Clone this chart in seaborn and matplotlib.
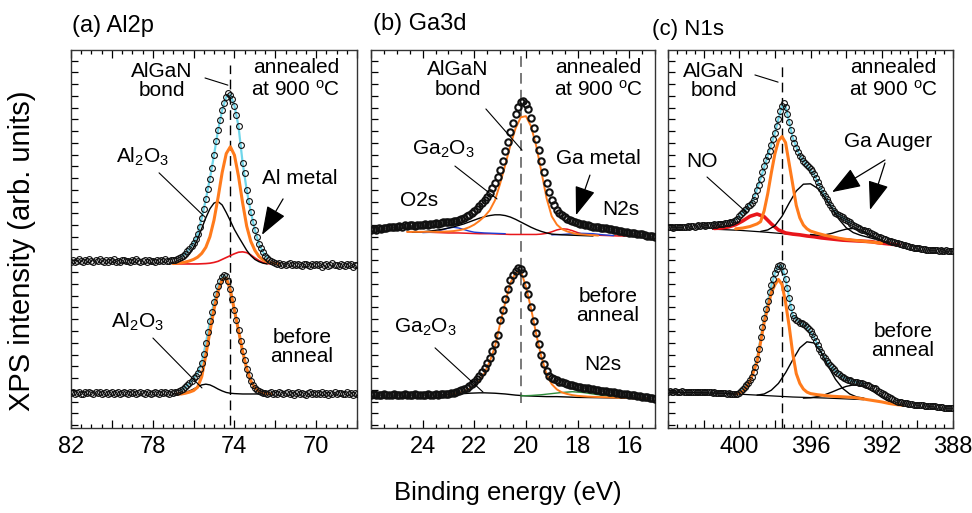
import numpy as np
import pandas as pd
import seaborn as sns
import matplotlib
matplotlib.use("Agg")
import matplotlib.pyplot as plt
from matplotlib.ticker import MultipleLocator, FixedLocator

sns.set_theme(style="white")
plt.rcParams["font.family"] = ["Liberation Sans", "DejaVu Sans"]
plt.rcParams["mathtext.fontset"] = "custom"
plt.rcParams["mathtext.rm"] = "Liberation Sans"
plt.rcParams["mathtext.it"] = "Liberation Sans:italic"
plt.rcParams["mathtext.default"] = "regular"
plt.rcParams["text.color"] = "black"
plt.rcParams["axes.labelcolor"] = "black"
plt.rcParams["xtick.color"] = "black"
plt.rcParams["ytick.color"] = "black"

# ---------------- data ----------------
# energy grids (measurement channels, 0.1 eV)
E_A = np.round(np.arange(82.0, 67.95, -0.1), 1)
E_B = np.round(np.arange(26.0, 14.95, -0.1), 1)
E_C = np.round(np.arange(404.0, 387.95, -0.1), 1)

# (a) Al2p, annealed at 900 C
A_TOP = [
    44.0, 44.5, 43.9, 44.3, 44.6, 44.1, 43.8, 44.4, 44.2, 44.7,
    44.3, 43.9, 44.5, 44.1, 44.6, 44.2, 43.9, 44.4, 44.0, 44.5,
    44.2, 44.6, 44.0, 44.3, 43.8, 44.4, 44.5, 44.1, 44.3, 43.9,
    44.4, 44.1, 44.6, 44.2, 43.9, 44.3, 44.5, 44.0, 44.4, 44.2,
    44.3, 44.0, 44.5, 44.2, 44.4, 44.1, 44.6, 44.3, 44.2, 44.5,
    44.4, 44.5, 44.7, 44.9, 45.3, 45.6, 46.1, 46.7, 47.4, 48.1,
    49.0, 50.0, 51.3, 53.2, 55.5, 58.0, 60.5, 63.3, 66.0, 68.7,
    72.2, 76.0, 78.8, 81.5, 84.1, 86.0, 87.6, 88.6, 88.2, 87.0,
    85.3, 82.9, 79.8, 75.0, 70.0, 67.5, 63.0, 60.0, 57.2, 54.5,
    52.4, 50.5, 48.7, 47.5, 46.5, 45.5, 45.0, 44.5, 44.1, 43.8,
    43.6, 43.4, 43.7, 43.2, 43.5, 43.1, 43.4, 43.6, 43.2, 43.3,
    43.0, 43.4, 43.2, 42.8, 43.3, 43.5, 43.1, 42.9, 43.4, 43.2,
    43.5, 43.0, 43.3, 42.7, 43.2, 43.4, 42.9, 43.1, 43.6, 43.0,
    43.2, 42.8, 43.4, 43.1, 42.9, 43.5, 43.0, 43.3, 42.7, 43.2,
    43.1]
# (a) Al2p, before anneal
A_BOT = [
    9.2, 9.5, 9.0, 9.3, 9.6, 9.1, 8.9, 9.4, 9.2, 9.6,
    9.3, 9.0, 9.5, 9.2, 9.4, 8.9, 9.3, 9.6, 9.1, 9.2,
    9.4, 9.1, 9.3, 9.6, 9.0, 9.2, 9.5, 9.3, 8.9, 9.4,
    9.2, 9.5, 9.1, 9.3, 9.6, 9.2, 9.0, 9.4, 9.3, 9.1,
    9.3, 9.5, 9.2, 9.0, 9.4, 9.3, 9.6, 9.2, 9.1, 9.4,
    9.2, 9.4, 9.5, 9.7, 10.0, 10.3, 10.8, 11.3, 11.8, 12.4,
    13.1, 13.8, 14.6, 15.7, 17.3, 19.5, 22.4, 25.3, 28.2, 30.8,
    33.3, 35.5, 37.5, 39.0, 40.0, 40.5, 40.1, 38.9, 36.7, 34.0,
    31.2, 28.5, 25.8, 23.0, 20.3, 17.9, 15.7, 14.0, 12.5, 11.4,
    10.6, 10.1, 9.7, 9.4, 9.2, 9.3, 9.0, 9.2, 9.4, 9.1,
    9.3, 9.0, 9.4, 9.2, 8.9, 9.3, 9.5, 9.1, 9.2, 8.8,
    9.2, 9.4, 9.0, 9.3, 9.1, 8.8, 9.3, 9.5, 9.0, 9.2,
    8.9, 9.3, 9.1, 9.4, 9.0, 9.2, 8.8, 9.3, 9.1, 9.4,
    9.0, 9.2, 9.3, 8.9, 9.1, 9.4, 9.0, 9.2, 8.8, 9.3,
    9.1]

# (b) Ga3d
B_TOP = [
    52.4, 52.6, 52.5, 52.8, 52.7, 53.0, 52.9, 53.1, 53.3, 53.2,
    53.3, 53.5, 53.3, 53.6, 53.4, 53.6, 53.7, 53.5, 53.8, 53.7,
    53.8, 54.0, 53.8, 54.1, 54.0, 54.2, 54.1, 54.3, 54.4, 54.4,
    54.5, 54.6, 54.7, 54.8, 55.0, 55.3, 55.6, 56.0, 56.4, 56.9,
    57.4, 57.9, 58.6, 59.4, 60.2, 61.1, 62.2, 63.4, 64.8, 66.4,
    68.3, 70.6, 73.2, 75.6, 78.2, 80.8, 83.2, 85.0, 86.2, 86.4,
    85.8, 84.4, 82.0, 79.3, 76.5, 73.6, 70.6, 67.6, 64.8, 62.4,
    60.4, 59.0, 57.8, 56.9, 56.3, 55.8, 55.4, 55.0, 54.7, 54.5,
    54.3, 54.1, 53.9, 53.8, 53.6, 53.5, 53.3, 53.2, 53.1, 53.0,
    52.9, 52.8, 52.7, 52.6, 52.5, 52.3, 52.1, 52.0, 51.9, 51.8,
    51.7, 51.6, 51.5, 51.4, 51.3, 51.2, 51.0, 50.9, 50.8, 50.7,
    50.6]
B_BOT = [
    8.7, 8.9, 8.6, 8.8, 8.7, 8.9, 8.6, 8.8, 8.7, 8.9,
    8.7, 8.8, 8.6, 8.9, 8.7, 8.8, 8.7, 8.9, 8.8, 8.7,
    8.8, 8.7, 8.9, 8.8, 8.8, 8.9, 8.8, 8.9, 8.9, 9.0,
    9.1, 9.2, 9.3, 9.5, 9.7, 10.0, 10.3, 10.7, 11.1, 11.6,
    12.3, 13.0, 13.8, 14.8, 15.9, 17.2, 18.6, 20.3, 22.3, 24.6,
    28.5, 31.2, 34.0, 36.8, 39.2, 40.6, 41.5, 42.2, 42.0, 41.0,
    37.8, 35.4, 32.0, 28.4, 25.2, 22.2, 19.4, 16.9, 15.0, 13.8,
    13.2, 12.9, 12.6, 12.3, 12.1, 11.9, 11.7, 11.5, 11.3, 11.1,
    10.9, 10.8, 10.7, 10.6, 10.5, 10.4, 10.2, 10.1, 10.0, 9.9,
    9.8, 9.7, 9.6, 9.5, 9.4, 9.3, 9.2, 9.1, 9.0, 8.9,
    8.8, 8.7, 8.6, 8.5, 8.4, 8.3, 8.2, 8.1, 8.0, 7.9,
    7.8]

# (c) N1s
C_TOP = [
    53.1, 53.2, 53.1, 53.0, 53.2, 53.3, 53.1, 53.2, 53.3, 53.2,
    53.3, 53.4, 53.2, 53.4, 53.5, 53.3, 53.5, 53.6, 53.4, 53.6,
    53.7, 53.5, 53.7, 53.8, 53.6, 53.8, 53.9, 53.8, 54.0, 54.0,
    54.1, 54.1, 54.2, 54.3, 54.3, 54.4, 54.6, 54.8, 55.0, 55.4,
    56.0, 56.6, 57.2, 57.6, 58.0, 58.6, 59.1, 59.6, 60.4, 61.5,
    62.9, 64.3, 66.0, 67.8, 69.4, 70.8, 72.0, 73.2, 74.8, 76.4,
    78.0, 79.8, 81.8, 83.8, 85.2, 85.9, 85.0, 83.1, 81.0, 78.9,
    76.8, 75.3, 74.0, 72.9, 72.0, 71.3, 70.6, 70.0, 69.5, 69.0,
    68.5, 67.9, 67.1, 66.1, 65.1, 64.1, 63.2, 62.3, 61.4, 60.6,
    59.8, 58.9, 58.1, 57.5, 57.0, 56.6, 56.3, 56.0, 55.7, 55.4,
    55.1, 54.8, 54.4, 54.0, 53.7, 53.4, 53.1, 52.9, 52.7, 52.5,
    52.4, 52.2, 52.0, 51.7, 51.5, 51.3, 51.0, 50.8, 50.6, 50.4,
    50.3, 50.1, 49.9, 49.8, 49.6, 49.4, 49.3, 49.1, 49.0, 48.9,
    48.8, 48.6, 48.5, 48.4, 48.2, 48.1, 48.0, 47.8, 47.7, 47.6,
    47.5, 47.5, 47.4, 47.3, 47.3, 47.2, 47.2, 47.1, 47.1, 47.0,
    47.0, 47.0, 46.9, 47.0, 46.9, 46.9, 47.0, 46.9, 46.8, 46.9,
    46.9]
C_BOT = [
    9.6, 9.7, 9.6, 9.5, 9.7, 9.6, 9.6, 9.5, 9.7, 9.6,
    9.6, 9.5, 9.6, 9.6, 9.5, 9.6, 9.5, 9.6, 9.5, 9.5,
    9.5, 9.4, 9.5, 9.4, 9.4, 9.3, 9.4, 9.3, 9.3, 9.2,
    9.2, 9.3, 9.2, 9.1, 9.2, 9.1, 9.1, 9.0, 9.1, 9.1,
    9.3, 9.8, 10.3, 10.8, 11.4, 12.0, 12.7, 13.6, 14.7, 16.2,
    18.3, 21.0, 24.0, 26.6, 29.1, 31.4, 33.6, 35.9, 37.7, 39.4,
    40.9, 42.0, 42.9, 43.1, 42.8, 41.6, 39.3, 37.0, 34.5, 32.0,
    29.8, 29.0, 28.6, 28.2, 27.9, 27.7, 27.5, 27.2, 26.8, 26.3,
    25.7, 25.0, 24.0, 22.9, 21.9, 20.9, 20.0, 19.1, 18.4, 17.7,
    17.1, 16.6, 16.1, 15.6, 15.1, 14.6, 14.2, 13.8, 13.5, 13.2,
    12.9, 12.7, 12.6, 12.4, 12.3, 12.2, 12.1, 12.0, 11.9, 11.8,
    11.7, 11.5, 11.3, 11.1, 10.9, 10.7, 10.5, 10.2, 9.9, 9.6,
    9.3, 9.0, 8.7, 8.4, 8.1, 7.9, 7.6, 7.4, 7.2, 7.0,
    6.9, 6.8, 6.7, 6.6, 6.5, 6.4, 6.4, 6.3, 6.2, 6.2,
    6.1, 6.1, 6.0, 6.0, 5.9, 5.9, 5.8, 5.8, 5.8, 5.7,
    5.7, 5.6, 5.6, 5.5, 5.5, 5.4, 5.4, 5.3, 5.3, 5.3,
    5.2]

# fitted components (energy, intensity)
A_TOP_ORANGE = [(77.0, 43.5), (76.8, 43.6), (76.6, 43.7), (76.4, 43.9), (76.2, 44.2), (76.0, 44.6),
                (75.8, 45.2), (75.6, 46.2), (75.4, 47.8), (75.2, 50.6), (75.0, 55.0), (74.8, 61.0),
                (74.6, 67.6), (74.4, 72.6), (74.2, 74.4), (74.0, 72.2), (73.8, 66.6), (73.6, 59.6),
                (73.4, 53.4), (73.2, 49.4), (73.0, 47.0), (72.8, 45.4), (72.6, 44.5), (72.4, 44.0),
                (72.2, 43.7), (72.0, 43.5), (71.8, 43.4)]
A_TOP_OXIDE = [(77.0, 43.6), (76.8, 43.8), (76.6, 44.2), (76.4, 44.9), (76.2, 46.0), (76.0, 47.7),
               (75.8, 50.0), (75.6, 52.8), (75.4, 55.6), (75.2, 58.0), (75.0, 59.5), (74.8, 59.9),
               (74.6, 59.0), (74.4, 57.0), (74.2, 54.8), (74.0, 52.5), (73.8, 50.6), (73.6, 48.8),
               (73.4, 47.0), (73.2, 45.6), (73.0, 44.6), (72.8, 44.0), (72.6, 43.6), (72.4, 43.4)]
A_TOP_METAL = [(77.0, 43.4), (76.6, 43.4), (76.2, 43.4), (75.8, 43.4), (75.4, 43.5), (75.2, 43.6),
               (75.0, 43.8), (74.8, 44.1), (74.6, 44.6), (74.4, 45.1), (74.2, 45.6), (74.0, 46.1),
               (73.8, 46.5), (73.6, 46.6), (73.4, 46.4), (73.2, 45.8), (73.0, 45.0), (72.8, 44.3),
               (72.6, 43.8), (72.4, 43.5), (72.2, 43.4)]
A_TOP_FIT = [(76.6, 45.3), (76.4, 46.1), (76.2, 47.4), (76.0, 49.0), (75.8, 51.3), (75.6, 55.5),
             (75.4, 60.5), (75.2, 66.0), (75.0, 72.2), (74.8, 78.8), (74.6, 84.1), (74.4, 87.6),
             (74.2, 88.2), (74.0, 85.3), (73.8, 79.8), (73.6, 70.2), (73.4, 63.0), (73.2, 57.2),
             (73.0, 52.4), (72.8, 48.7), (72.6, 46.5), (72.4, 45.0)]
A_BOT_ORANGE = [(76.8, 9.0), (76.6, 9.0), (76.4, 9.2), (76.2, 9.5), (76.0, 9.9), (75.8, 10.8),
                (75.6, 13.6), (75.4, 19.3), (75.2, 25.5), (75.0, 31.4), (74.8, 36.2), (74.6, 39.2),
                (74.4, 39.7), (74.2, 36.5), (74.0, 31.1), (73.8, 25.8), (73.6, 20.3), (73.4, 15.7),
                (73.2, 12.5), (73.0, 10.6), (72.8, 9.7), (72.6, 9.3), (72.4, 9.1), (72.2, 9.0)]
A_BOT_OXIDE = [(77.0, 9.1), (76.6, 9.2), (76.4, 9.4), (76.2, 9.8), (76.0, 10.3), (75.8, 10.9),
               (75.6, 11.4), (75.4, 11.6), (75.2, 11.4), (75.0, 10.9), (74.8, 10.3), (74.6, 9.8),
               (74.4, 9.4), (74.2, 9.2), (74.0, 9.1), (73.6, 9.0), (73.2, 9.0), (72.8, 9.0), (72.4, 9.0)]
A_BOT_FIT = [(76.6, 10.0), (76.4, 10.8), (76.2, 11.8), (76.0, 13.1), (75.8, 14.6), (75.6, 17.3),
             (75.4, 22.4), (75.2, 28.2), (75.0, 33.3), (74.8, 37.5), (74.6, 40.0), (74.4, 40.1),
             (74.2, 36.7), (74.0, 31.2), (73.8, 25.8), (73.6, 20.3), (73.4, 15.7), (73.2, 12.5),
             (73.0, 10.6), (72.8, 9.7), (72.6, 9.2)]

B_TOP_ORANGE = [(24.6, 51.9), (24.2, 51.9), (23.8, 51.9), (23.4, 51.9), (23.0, 52.0), (22.8, 52.1),
                (22.6, 52.3), (22.4, 52.6), (22.2, 53.1), (22.0, 53.8), (21.8, 54.8), (21.6, 56.0),
                (21.4, 57.6), (21.2, 60.2), (21.0, 64.6), (20.8, 69.6), (20.6, 74.8), (20.4, 79.3),
                (20.2, 82.2), (20.0, 82.5), (19.8, 79.8), (19.6, 74.6), (19.4, 67.8), (19.2, 60.8),
                (19.0, 56.0), (18.8, 53.8), (18.6, 52.6), (18.4, 52.0), (18.2, 51.6), (18.0, 51.3),
                (17.6, 51.1), (17.2, 50.9)]
B_TOP_OXIDE = [(24.4, 51.8), (24.0, 51.9), (23.6, 52.2), (23.2, 52.6), (22.8, 53.2), (22.6, 53.6),
               (22.4, 54.0), (22.2, 54.5), (22.0, 55.0), (21.8, 55.5), (21.6, 55.9), (21.4, 56.2),
               (21.2, 56.4), (21.0, 56.4), (20.8, 56.2), (20.6, 55.8), (20.4, 55.2), (20.2, 54.5),
               (20.0, 53.8), (19.8, 53.1), (19.6, 52.5), (19.4, 52.0), (19.2, 51.6), (19.0, 51.3),
               (18.6, 51.1), (18.2, 51.0), (17.8, 50.9), (17.4, 50.8)]
B_TOP_METAL = [(24.6, 51.9), (24.2, 51.8), (23.8, 51.8), (23.4, 51.7), (23.0, 51.6), (22.6, 51.6),
               (22.2, 51.5), (21.8, 51.4), (21.4, 51.4), (21.0, 51.3), (20.6, 51.2), (20.2, 51.2),
               (19.8, 51.2), (19.6, 51.2), (19.4, 51.3), (19.2, 51.5), (19.0, 51.9), (18.8, 52.4),
               (18.6, 52.7), (18.4, 52.6), (18.2, 52.2), (18.0, 51.7), (17.8, 51.3), (17.6, 51.1),
               (17.2, 51.0), (16.8, 50.9), (16.4, 50.8), (16.0, 50.8), (15.6, 50.7)]
B_TOP_O2S = [(24.0, 51.7), (23.6, 51.8), (23.4, 52.1), (23.2, 52.5), (23.0, 52.9), (22.8, 53.1),
             (22.6, 52.9), (22.4, 52.5), (22.2, 52.1), (22.0, 51.8), (21.6, 51.6), (21.2, 51.5),
             (20.8, 51.4)]
B_TOP_N2S = [(19.0, 51.1), (18.6, 51.2), (18.2, 51.4), (17.8, 51.5), (17.4, 51.4), (17.0, 51.1),
             (16.6, 50.9)]
B_BOT_ORANGE = [(23.0, 8.8), (22.8, 9.0), (22.6, 9.3), (22.4, 9.7), (22.2, 10.3), (22.0, 11.2),
                (21.8, 12.6), (21.6, 14.6), (21.4, 17.6), (21.2, 21.5), (21.0, 27.5), (20.8, 33.2),
                (20.6, 38.4), (20.4, 41.0), (20.2, 41.6), (20.0, 37.4), (19.8, 31.6), (19.6, 24.8),
                (19.4, 18.8), (19.2, 14.2), (19.0, 11.6), (18.8, 10.2), (18.6, 9.4), (18.4, 9.0),
                (18.2, 8.7), (18.0, 8.5), (17.6, 8.3), (17.2, 8.2), (16.8, 8.1), (16.4, 8.0),
                (16.0, 7.9), (15.6, 7.8), (15.2, 7.8)]
B_BOT_OXIDE = [(23.4, 8.7), (23.0, 8.8), (22.6, 9.0), (22.2, 9.2), (21.8, 9.3), (21.6, 9.3),
               (21.2, 9.2), (20.8, 9.0), (20.4, 8.7), (20.0, 8.5), (19.6, 8.4), (19.2, 8.3),
               (18.8, 8.3), (18.4, 8.2), (18.0, 8.1), (17.0, 8.0), (16.0, 7.9), (15.2, 7.8)]
B_BOT_N2S = [(20.2, 8.5), (19.8, 8.6), (19.4, 8.8), (19.0, 9.1), (18.6, 9.4), (18.2, 9.6),
             (17.8, 9.4), (17.4, 9.0), (17.0, 8.6), (16.6, 8.3), (16.2, 8.1)]

C_TOP_NO = [(401.4, 52.8), (401.0, 52.9), (400.6, 53.2), (400.2, 53.8), (399.8, 54.8), (399.4, 56.0),
            (399.0, 56.6), (398.6, 55.9), (398.2, 54.0), (397.8, 52.4), (397.4, 51.6), (397.0, 51.3),
            (396.6, 51.1), (396.2, 50.8), (395.8, 50.6), (395.4, 50.3), (395.0, 50.1), (394.6, 49.9),
            (394.2, 49.7), (393.8, 49.6), (393.4, 49.5), (393.0, 49.4), (392.6, 49.3), (392.2, 49.0),
            (391.8, 48.8), (391.4, 48.6), (391.0, 48.4)]
C_TOP_ORANGE = [(400.2, 52.7), (399.8, 52.9), (399.4, 53.3), (399.0, 54.0), (398.8, 54.6), (398.6, 57.5),
                (398.4, 62.0), (398.2, 67.5), (398.0, 72.5), (397.8, 76.0), (397.6, 77.1), (397.4, 75.5),
                (397.2, 70.0), (397.0, 64.5), (396.8, 58.9), (396.6, 55.6), (396.4, 53.7), (396.2, 52.7),
                (396.0, 52.1), (395.6, 51.5), (395.2, 51.0), (394.8, 50.6), (394.4, 50.2), (394.0, 49.9),
                (393.6, 49.7), (393.2, 49.5), (392.8, 49.3), (392.4, 49.1), (392.0, 48.9)]
C_TOP_AUGER1 = [(398.8, 52.0), (398.4, 52.4), (398.0, 53.5), (397.6, 56.0), (397.2, 59.5), (396.8, 62.7),
                (396.4, 64.5), (396.0, 64.6), (395.6, 63.4), (395.2, 61.0), (394.8, 58.1), (394.4, 55.2),
                (394.0, 53.0), (393.6, 51.7), (393.2, 51.0), (392.8, 50.5), (392.4, 50.0)]
C_TOP_AUGER2 = [(396.0, 51.2), (395.6, 51.0), (395.2, 51.1), (394.8, 51.5), (394.4, 52.1), (394.0, 52.6),
                (393.6, 52.8), (393.2, 52.4), (392.8, 51.5), (392.4, 50.5), (392.0, 49.6), (391.6, 49.0)]
C_TOP_BG = [(401.5, 52.6), (400.0, 52.3), (398.5, 51.8), (397.0, 51.2), (395.5, 50.6), (394.0, 50.0),
            (392.5, 49.3), (391.0, 48.4)]
C_TOP_FIT = [(400.4, 54.6), (400.0, 56.0), (399.6, 58.0), (399.2, 60.4), (398.8, 66.0), (398.4, 72.0),
             (398.0, 78.0), (397.8, 81.8), (397.6, 85.2), (397.4, 85.0), (397.2, 81.0), (397.0, 76.8),
             (396.6, 72.0), (396.2, 69.5), (395.8, 67.1), (395.4, 63.2), (395.0, 59.8), (394.6, 57.0),
             (394.2, 55.7), (393.8, 54.4)]
C_BOT_ORANGE = [(400.2, 9.0), (399.8, 9.6), (399.4, 12.3), (399.0, 17.5), (398.6, 28.0), (398.2, 35.8),
                (398.0, 37.9), (397.8, 39.3), (397.6, 38.0), (397.4, 33.2), (397.2, 27.0), (397.0, 19.8),
                (396.8, 14.4), (396.6, 11.8), (396.4, 10.3), (396.2, 9.5), (396.0, 9.1), (395.6, 8.8),
                (395.2, 8.6), (394.8, 8.4), (394.4, 8.3), (394.0, 8.2), (393.6, 8.1), (393.2, 7.8),
                (392.8, 7.5), (392.4, 7.2), (392.0, 6.9), (391.6, 6.5), (391.2, 6.2), (390.8, 6.0)]
C_BOT_AUGER1 = [(399.0, 8.7), (398.6, 9.0), (398.2, 10.0), (397.8, 11.8), (397.4, 14.6), (397.0, 18.0),
                (396.6, 21.2), (396.2, 22.8), (395.8, 22.5), (395.4, 20.0), (395.0, 16.3), (394.6, 12.9),
                (394.2, 10.5), (393.8, 9.0), (393.4, 8.2), (393.0, 7.9)]
C_BOT_AUGER2 = [(396.4, 7.9), (396.0, 8.0), (395.6, 8.3), (395.2, 8.8), (394.8, 9.5), (394.4, 10.3),
                (394.0, 11.0), (393.6, 11.4), (393.2, 11.3), (392.8, 10.6), (392.4, 9.4), (392.0, 8.1),
                (391.6, 7.0), (391.2, 6.3)]
C_BOT_BG = [(404.0, 9.5), (401.0, 9.2), (399.0, 8.7), (397.0, 8.2), (395.0, 7.9), (393.0, 7.5)]
C_BOT_FIT = [(400.2, 9.2), (399.8, 10.3), (399.4, 12.7), (399.0, 18.3), (398.6, 29.1), (398.2, 37.7),
             (398.0, 40.9), (397.8, 42.9), (397.6, 42.8), (397.4, 39.3), (397.2, 34.5), (397.0, 29.8),
             (396.6, 27.9), (396.2, 26.8), (395.8, 24.0), (395.4, 20.0), (395.0, 17.1), (394.6, 15.1),
             (394.2, 13.5), (393.8, 12.6), (393.4, 12.1), (393.0, 11.7)]

REF_A, REF_B, REF_C = 74.22, 20.2, 397.6
TICKLABELS_A = [82, 78, 74, 70]
TICKLABELS_B = [24, 22, 20, 18, 16]
TICKLABELS_C = [400, 396, 392, 388]

# ---------------- style ----------------
ORANGE = "#ff7b1c"
RED = "#e8161b"
CYAN = "#6fd6ea"
BLUE = "#1f3fd6"
GREEN = "#2e8b3a"
FS = 15

fig = plt.figure(figsize=(9.72, 5.13), dpi=100)
ax_a = fig.add_axes([71 / 972, 1 - 428 / 513, 286 / 972, 378 / 513])
ax_b = fig.add_axes([371 / 972, 1 - 428 / 513, 284 / 972, 378 / 513])
ax_c = fig.add_axes([668 / 972, 1 - 428 / 513, 285 / 972, 378 / 513])


def curve(ax, pairs, color, lw, z=2):
    xs, ys = zip(*pairs)
    df = pd.DataFrame({"E": xs, "I": ys})
    sns.lineplot(data=df, x="E", y="I", ax=ax, color=color, lw=lw,
                 estimator=None, sort=True, zorder=z, legend=False)


def spectrum(ax, E, I, mew, ms=4.2):
    assert len(E) == len(I), (len(E), len(I))
    df = pd.DataFrame({"E": E, "I": I})
    sns.lineplot(data=df, x="E", y="I", ax=ax, estimator=None, sort=False,
                 linestyle="", marker="o", markersize=ms, markerfacecolor="none",
                 markeredgecolor="#111111", markeredgewidth=mew, color="#111111",
                 zorder=3, legend=False)


def style(ax, xlim, major, labels):
    ax.set_xlim(*xlim)
    ax.set_ylim(0, 100)
    ax.set_xlabel("")
    ax.set_ylabel("")
    ax.xaxis.set_major_locator(MultipleLocator(major))
    ax.xaxis.set_minor_locator(MultipleLocator(0.5))
    ticks = [t for t in ax.get_xticks() if min(xlim) - 1e-6 <= t <= max(xlim) + 1e-6]
    ax.set_xticks(ticks)
    ax.set_xticklabels([str(int(round(t))) if int(round(t)) in labels else "" for t in ticks])
    ax.yaxis.set_major_locator(FixedLocator(np.arange(0.78, 100, 3.11)))
    ax.tick_params(axis="x", which="major", direction="in", top=True, bottom=True,
                   length=6, width=0.9, labelsize=17, pad=6, colors="black")
    ax.tick_params(axis="x", which="minor", direction="in", top=True, bottom=True,
                   length=3, width=0.9, colors="black")
    ax.tick_params(axis="y", which="major", direction="in", left=True, right=False,
                   length=5, width=0.9, labelleft=False, colors="black")
    for sp in ax.spines.values():
        sp.set_color("#333333")
        sp.set_linewidth(1.0)


LEAD = dict(arrowstyle="-", color="black", lw=0.8, shrinkA=0, shrinkB=0)
ARROW = dict(arrowstyle="-|>,head_length=1.0,head_width=0.36", mutation_scale=18,
             color="black", lw=0.9, shrinkA=0, shrinkB=0)


def txt(ax, x, y, s, ls=1.05):
    ax.text(x, y, s, ha="center", va="center", fontsize=FS, linespacing=ls,
            color="black", zorder=6)


# ---------- panel (a) ----------
ax = ax_a
curve(ax, A_TOP_FIT, CYAN, 1.6, 2)
curve(ax, A_TOP_METAL, RED, 1.2)
curve(ax, A_TOP_OXIDE, "black", 1.0)
curve(ax, A_TOP_ORANGE, ORANGE, 2.2)
curve(ax, A_BOT_FIT, CYAN, 1.6, 2)
curve(ax, A_BOT_OXIDE, "black", 1.0)
curve(ax, A_BOT_ORANGE, ORANGE, 2.2)
spectrum(ax, E_A, A_TOP, 0.8)
spectrum(ax, E_A, A_BOT, 0.8)
ax.axvline(REF_A, ymin=0.008, ymax=0.96, color="black", lw=1.0, dashes=(7, 4), zorder=1)
style(ax, (82, 68), 2, TICKLABELS_A)
txt(ax, 77.55, 91.8, "AlGaN\nbond")
ax.annotate("", xy=(74.32, 90.7), xytext=(75.44, 92.6), arrowprops=LEAD)
txt(ax, 70.99, 92.4, "annealed\nat 900 $^{o}$C", 1.15)
txt(ax, 78.48, 71.7, "Al$_2$O$_3$")
ax.annotate("", xy=(75.54, 56.3), xytext=(77.69, 67.5), arrowprops=LEAD)
txt(ax, 70.79, 66.1, "Al metal")
ax.annotate("", xy=(72.65, 51.1), xytext=(71.62, 60.6), arrowprops=ARROW)
txt(ax, 78.72, 28.0, "Al$_2$O$_3$")
ax.annotate("", xy=(75.59, 10.6), xytext=(77.99, 23.8), arrowprops=LEAD)
txt(ax, 70.69, 21.4, "before\nanneal")

# ---------- panel (b) ----------
ax = ax_b
curve(ax, B_TOP_METAL, RED, 1.1)
curve(ax, B_TOP_O2S, BLUE, 1.0)
curve(ax, B_TOP_N2S, BLUE, 1.0)
curve(ax, B_TOP_OXIDE, "black", 1.0)
curve(ax, B_TOP_ORANGE, ORANGE, 1.4)
curve(ax, B_BOT_OXIDE, "black", 1.0)
curve(ax, B_BOT_N2S, GREEN, 1.0)
curve(ax, B_BOT_ORANGE, ORANGE, 1.4)
spectrum(ax, E_B, B_TOP, 1.5, 4.6)
spectrum(ax, E_B, B_BOT, 1.5, 4.6)
ax.axvline(REF_B, ymin=0.066, ymax=0.99, color="#555555", lw=1.1, dashes=(7, 4), zorder=1)
style(ax, (26, 15), 2, TICKLABELS_B)
txt(ax, 22.63, 92.1, "AlGaN\nbond")
ax.annotate("", xy=(20.15, 73.5), xytext=(21.55, 84.4), arrowprops=LEAD)
txt(ax, 17.21, 92.4, "annealed\nat 900 $^{o}$C", 1.15)
txt(ax, 23.21, 73.8, "Ga$_2$O$_3$")
ax.annotate("", xy=(21.12, 60.6), xytext=(22.75, 69.3), arrowprops=LEAD)
txt(ax, 24.14, 60.3, "O2s")
txt(ax, 17.21, 71.2, "Ga metal")
ax.annotate("", xy=(18.06, 56.3), xytext=(17.52, 66.9), arrowprops=ARROW)
txt(ax, 16.32, 57.7, "N2s")
txt(ax, 23.91, 26.5, "Ga$_2$O$_3$")
ax.annotate("", xy=(21.66, 9.5), xytext=(23.52, 21.2), arrowprops=LEAD)
txt(ax, 16.82, 32.3, "before\nanneal")
txt(ax, 17.01, 16.7, "N2s")

# ---------- panel (c) ----------
ax = ax_c
curve(ax, C_TOP_FIT, CYAN, 1.6, 2)
curve(ax, C_TOP_BG, "black", 0.9)
curve(ax, C_TOP_NO, RED, 2.6)
curve(ax, C_TOP_AUGER1, "black", 1.0)
curve(ax, C_TOP_AUGER2, "black", 1.0)
curve(ax, C_TOP_ORANGE, ORANGE, 2.2)
curve(ax, C_BOT_FIT, CYAN, 1.6, 2)
curve(ax, C_BOT_BG, "black", 0.9)
curve(ax, C_BOT_AUGER1, "black", 1.0)
curve(ax, C_BOT_AUGER2, "black", 1.0)
curve(ax, C_BOT_ORANGE, ORANGE, 2.2)
spectrum(ax, E_C, C_TOP, 0.8)
spectrum(ax, E_C, C_BOT, 0.8)
ax.axvline(REF_C, ymin=0.0, ymax=0.96, color="black", lw=1.0, dashes=(7, 4), zorder=1)
style(ax, (404, 388), 2, TICKLABELS_C)
txt(ax, 401.42, 91.8, "AlGaN\nbond")
ax.annotate("", xy=(397.82, 91.5), xytext=(399.12, 93.4), arrowprops=LEAD)
txt(ax, 391.37, 92.4, "annealed\nat 900 $^{o}$C", 1.15)
txt(ax, 402.09, 70.4, "NO")
ax.annotate("", xy=(399.56, 56.9), xytext=(401.81, 66.4), arrowprops=LEAD)
txt(ax, 391.65, 75.7, "Ga Auger")
ax.annotate("", xy=(394.79, 62.4), xytext=(391.82, 70.9), arrowprops=ARROW)
ax.annotate("", xy=(392.66, 57.7), xytext=(391.82, 70.1), arrowprops=ARROW)
txt(ax, 390.8, 23.0, "before\nanneal")

# titles and axis labels
fig.text(72 / 972, 1 - 26 / 513, "(a) Al2p", fontsize=17, ha="left", va="center", color="black")
fig.text(373 / 972, 1 - 24 / 513, "(b) Ga3d", fontsize=17, ha="left", va="center", color="black")
fig.text(652 / 972, 1 - 29 / 513, "(c) N1s", fontsize=16, ha="left", va="center", color="black")
fig.text(508 / 972, 1 - 493 / 513, "Binding energy (eV)", fontsize=18.5, ha="center",
         va="center", color="black")
fig.text(22 / 972, 1 - 251 / 513, "XPS intensity (arb. units)", fontsize=21,
         ha="center", va="center", rotation=90, color="black")

fig.savefig("out.png", dpi=100)
